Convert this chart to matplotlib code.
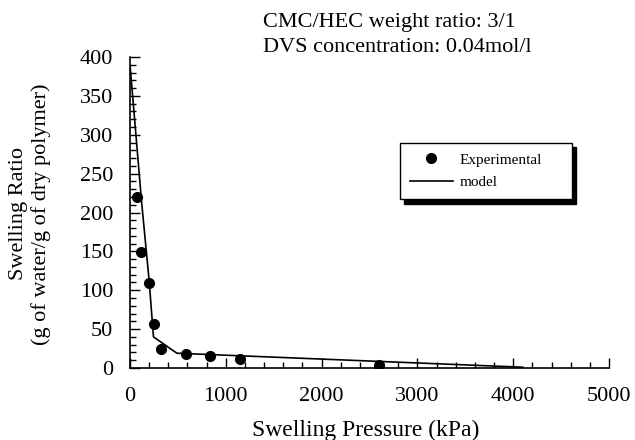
import matplotlib
matplotlib.use("Agg")
import matplotlib.pyplot as plt
from matplotlib.ticker import MultipleLocator

# experimental points
exp_pressure = [70, 118, 200, 250, 320, 580, 840, 1150, 2600]
exp_ratio = [220, 149, 109, 56, 24, 18, 16, 11, 4]

# model curve (piecewise)
model_pressure = [0, 120, 200, 245, 490, 4100]
model_ratio = [390, 215, 112, 40, 19, 1]

title_lines = ["CMC/HEC weight ratio: 3/1", "DVS concentration: 0.04mol/l"]

plt.rcParams['font.family'] = ['Liberation Serif', 'DejaVu Serif']

W, H = 635, 440
fig = plt.figure(figsize=(W / 100, H / 100), dpi=100)
ax = fig.add_axes([130 / W, 1 - 368 / H, 479 / W, 311 / H])

ax.plot(exp_pressure, exp_ratio, 'o', color='black', markersize=7,
        label='Experimental')
ax.plot(model_pressure, model_ratio, '-', color='black', linewidth=1.2,
        label='model')

ax.set_xlim(0, 5000)
ax.set_ylim(0, 400)
ax.xaxis.set_major_locator(MultipleLocator(1000))
ax.xaxis.set_minor_locator(MultipleLocator(200))
ax.yaxis.set_major_locator(MultipleLocator(50))
ax.yaxis.set_minor_locator(MultipleLocator(10))
ax.tick_params(which='both', direction='in', labelsize=16, width=1)
ax.tick_params(which='major', length=7)
ax.tick_params(which='minor', length=4)
ax.tick_params(axis='x', pad=14)
ax.tick_params(axis='y', pad=12)
for s in ['top', 'right']:
    ax.spines[s].set_visible(False)
for s in ['left', 'bottom']:
    ax.spines[s].set_linewidth(1.2)

# axis titles
fig.text(366 / W, 1 - 436 / H, 'Swelling Pressure (kPa)', fontsize=17,
         ha='center', va='baseline')
fig.text(30 / W, 1 - 214 / H, 'Swelling Ratio\n(g of water/g of dry polymer)',
         fontsize=16, rotation=90, ha='center', va='center',
         multialignment='center', linespacing=1.25)

leg = ax.legend(loc='upper left',
                bbox_to_anchor=(270 / 479, (368 - 143) / 311 - 0.3,
                                172 / 479, 0.3),
                mode='expand', borderaxespad=0,
                fontsize=11, frameon=True, fancybox=False, handlelength=2.8,
                shadow={'color': 'black', 'alpha': 1, 'ox': 3, 'oy': -3},
                borderpad=0.65, labelspacing=0.6, handletextpad=0.45)
leg.get_frame().set_edgecolor('black')
leg.get_frame().set_linewidth(1)

fig.text(263 / W, 1 - 27 / H, title_lines[0], fontsize=16, va='baseline')
fig.text(263 / W, 1 - 52 / H, title_lines[1], fontsize=16, va='baseline')

fig.savefig('out.png', dpi=100)
